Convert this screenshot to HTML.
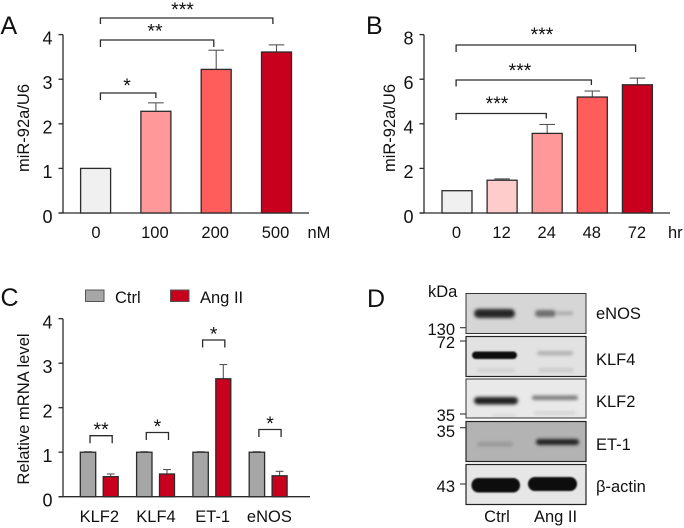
<!DOCTYPE html>
<html>
<head>
<meta charset="utf-8">
<style>
html,body{margin:0;padding:0;background:#fff;}
svg{display:block;filter:blur(0.3px);}
text{font-family:"Liberation Sans",sans-serif;fill:#111;}
</style>
</head>
<body>
<svg id="fig" xmlns="http://www.w3.org/2000/svg" width="684" height="528" viewBox="0 0 684 528">
<defs>
<filter id="b1" x="-30%" y="-150%" width="160%" height="400%"><feGaussianBlur stdDeviation="1.5"/></filter>
<filter id="b2" x="-30%" y="-100%" width="160%" height="300%"><feGaussianBlur stdDeviation="0.9"/></filter>
<clipPath id="c1"><rect x="466" y="293.5" width="120" height="40"/></clipPath>
<clipPath id="c2"><rect x="466" y="336.5" width="120" height="40"/></clipPath>
<clipPath id="c3"><rect x="466" y="379" width="120" height="39"/></clipPath>
<clipPath id="c4"><rect x="466" y="421.5" width="120" height="40"/></clipPath>
<clipPath id="c5"><rect x="466" y="464.5" width="120" height="40"/></clipPath>
</defs>

<g>
  <g clip-path="url(#c1)">
    <rect x="466" y="293.5" width="120" height="40" fill="#d6d6d6"/>
    <rect x="474" y="309" width="41" height="9" rx="4.5" fill="#262626" filter="url(#b1)"/>
    <rect x="535" y="310" width="21" height="7" rx="3.5" fill="#6e6e6e" filter="url(#b1)"/>
    <rect x="556" y="311.5" width="17" height="3.5" rx="1.7" fill="#a8a8a8" filter="url(#b1)"/>
  </g>
  <rect x="466" y="293.5" width="120" height="40" fill="none" stroke="#333" stroke-width="1"/>
  <g clip-path="url(#c2)">
    <rect x="466" y="336.5" width="120" height="40" fill="#e2e2e2"/>
    <rect x="472" y="351.5" width="45" height="7.5" rx="3.7" fill="#0c0c0c" filter="url(#b2)"/>
    <rect x="537" y="351" width="36" height="4.5" rx="2.2" fill="#b2b2b2" filter="url(#b1)"/>
    <rect x="477" y="368.5" width="38" height="3.5" rx="1.7" fill="#cfcfcf" filter="url(#b1)"/>
    <rect x="538" y="368" width="36" height="4.5" rx="2.2" fill="#cbcbcb" filter="url(#b1)"/>
  </g>
  <rect x="466" y="336.5" width="120" height="40" fill="none" stroke="#222" stroke-width="1.2"/>
  <g clip-path="url(#c3)">
    <rect x="466" y="379" width="120" height="39" fill="#e9e9e9"/>
    <rect x="474" y="397" width="44" height="7.5" rx="3.7" fill="#232323" filter="url(#b1)"/>
    <rect x="532" y="395.5" width="46" height="4.5" rx="2.2" fill="#7c7c7c" filter="url(#b1)"/>
    <rect x="534" y="411.5" width="42" height="3" rx="1.5" fill="#cfcfcf" filter="url(#b1)"/>
    <rect x="492" y="414.5" width="24" height="2.5" rx="1.2" fill="#d5d5d5" filter="url(#b1)"/>
  </g>
  <rect x="466" y="379" width="120" height="39" fill="none" stroke="#333" stroke-width="1"/>
  <g clip-path="url(#c4)">
    <rect x="466" y="421.5" width="120" height="40" fill="#b3b3b3"/>
    <rect x="477" y="442" width="36" height="4.5" rx="2.2" fill="#989898" filter="url(#b1)"/>
    <rect x="536" y="439" width="43" height="6" rx="3" fill="#222" filter="url(#b1)"/>
  </g>
  <rect x="466" y="421.5" width="120" height="40" fill="none" stroke="#222" stroke-width="1.2"/>
  <g clip-path="url(#c5)">
    <rect x="466" y="464.5" width="120" height="40" fill="#e6e6e6"/>
    <rect x="471.5" y="478" width="48.5" height="14.5" rx="7" fill="#070707" filter="url(#b2)"/>
    <rect x="528" y="477" width="49" height="14" rx="7" fill="#070707" filter="url(#b2)"/>
  </g>
  <rect x="466" y="464.5" width="120" height="40" fill="none" stroke="#222" stroke-width="1.2"/>
  <g stroke="#333" stroke-width="1.1">
    <line x1="460" x2="466" y1="327.7" y2="327.7"/>
    <line x1="460" x2="466" y1="341" y2="341"/>
    <line x1="460" x2="466" y1="414" y2="414"/>
    <line x1="460" x2="466" y1="427.7" y2="427.7"/>
    <line x1="460" x2="466" y1="484" y2="484"/>
  </g>
  <g font-size="16.5">
    <text x="428" y="297">kDa</text>
    <g text-anchor="end">
      <text x="455" y="335">130</text>
      <text x="455" y="348">72</text>
      <text x="455" y="421">35</text>
      <text x="455" y="437">35</text>
      <text x="455" y="492">43</text>
    </g>
    <text x="596" y="319">eNOS</text>
    <text x="596" y="365">KLF4</text>
    <text x="596" y="407">KLF2</text>
    <text x="596" y="450">ET-1</text>
    <text x="596" y="492" font-family="'Liberation Sans','DejaVu Sans',sans-serif">β-actin</text>
    <text x="497" y="522" text-anchor="middle">Ctrl</text>
    <text x="555.5" y="522" text-anchor="middle">Ang II</text>
  </g>
</g>
</svg>
<script>
// Panel A data
var aCategories = ['0', '100', '200', '500'];
var aValues = [1, 2.28, 3.22, 3.61];
var aErrorTops = [1, 2.47, 3.65, 3.77];
var aTicks = [0, 1, 2, 3, 4];
// Panel B data
var bCategories = ['0', '12', '24', '48', '72'];
var bValues = [1, 1.47, 3.57, 5.2, 5.75];
var bErrorTops = [1, 1.53, 3.97, 5.47, 6.05];
var bTicks = [0, 2, 4, 6, 8];
// Panel C data
var cCategories = ['KLF2', 'KLF4', 'ET-1', 'eNOS'];
var cCtrlValues = [1, 1, 1, 1];
var cCtrlErrorTops = [1.01, 1.01, 1.01, 1.01];
var cAngValues = [0.45, 0.51, 2.65, 0.47];
var cAngErrorTops = [0.51, 0.61, 2.97, 0.57];
var cTicks = [0, 1, 2, 3, 4];
var cSignificance = ['**', '*', '*', '*'];

var svg = document.getElementById('fig');
var NS = 'http://www.w3.org/2000/svg';
var INK = '#2b2b2b';

function make(tag, props, parent) {
  var el = document.createElementNS(NS, tag);
  for (var k in props) el.setAttribute(k, props[k]);
  (parent || svg).appendChild(el);
  return el;
}
function group(name) {
  var g = make('g', {});
  
  
  return g;
}
function label(g, name, str, x, y, size, anchor, rotate) {
  var t = make('text', {x: x, y: y, 'font-size': size, 'text-anchor': anchor || 'start'}, g);
  if (rotate) t.setAttribute('transform', 'rotate(-90 ' + x + ' ' + y + ')');
  t.textContent = str;
  
  
  return t;
}
function drawAxes(g, left, right, yScale, ticks, labelRight) {
  var yLine = make('line', {x1: left, x2: left, y1: yScale(ticks[0]), y2: yScale(ticks[ticks.length - 1]), stroke: INK, 'stroke-width': 1.3}, g);
  
  
  var xLine = make('line', {x1: left - 4.5, x2: right, y1: yScale(0), y2: yScale(0), stroke: INK, 'stroke-width': 1.3}, g);
  
  
  ticks.forEach(function (v) {
    var m = make('line', {x1: left - 4.5, x2: left, y1: yScale(v), y2: yScale(v), stroke: INK, 'stroke-width': 1.3}, g);
    
    
    label(g, 'y-tick-label', String(v), labelRight, yScale(v) + 9.8, 18, 'end');
  });
}
function drawBar(g, name, cx, w, value, top, yScale, fill) {
  if (top > value) {
    var stem = make('line', {x1: cx, x2: cx, y1: yScale(value), y2: yScale(top), stroke: '#555', 'stroke-width': 1.1}, g);
    
    
    var cap = make('line', {x1: cx - w * 0.26, x2: cx + w * 0.26, y1: yScale(top), y2: yScale(top), stroke: '#555', 'stroke-width': 1.1}, g);
    
    
  }
  var r = make('rect', {x: cx - w / 2, y: yScale(value), width: w, height: yScale(0) - yScale(value), fill: fill, stroke: INK, 'stroke-width': 1.3}, g);
  
  
}
function bracket(g, name, x1, x2, y, dropL, dropR, stars, starY, starX) {
  var p = make('path', {d: 'M' + x1 + ' ' + (y + dropL) + 'V' + y + 'H' + x2 + 'V' + (y + dropR), fill: 'none', stroke: '#2b2b2b', 'stroke-width': 1.3}, g);
  
  
  label(g, name + '-stars', stars, starX === undefined ? (x1 + x2) / 2 : starX, starY + 9, 19.5, 'middle');
}

/* Panel A */
(function () {
  var g = group('panel-a');
  var yA = function (v) { return 213 - v * 44.6; };
  var xA = function (i) { return 95.6 + i * 60.3; };
  var fills = ['#f0f0f0', '#ff9999', '#ff5c5c', '#c8001e'];
  drawAxes(g, 63, 309, yA, aTicks, 52.5);
  aCategories.forEach(function (c, i) {
    drawBar(g, 'bar-a-' + c, xA(i), 30, aValues[i], aErrorTops[i], yA, fills[i]);
    label(g, 'x-tick-label', c, i === 0 ? 96 : xA(i) - 1, 238, 16.5, 'middle');
  });
  label(g, 'x-unit-nm', 'nM', 307.5, 238, 16.5);
  label(g, 'y-axis-title', 'miR-92a/U6', 29, 128, 16.5, 'middle', true);
  label(g, 'panel-label-a', 'A', 0.5, 34, 25);
  bracket(g, 'bracket-0-100', xA(0.08), xA(1), 93, 7, 5, '*', 83, 127);
  bracket(g, 'bracket-0-200', xA(0.08), xA(1.96), 40, 7, 7, '**', 28.5, 155);
  bracket(g, 'bracket-0-500', xA(0.08), xA(2.94), 18, 6, 6, '***', 7, 182.5);
})();

/* Panel B */
(function () {
  var g = group('panel-b');
  var yB = function (v) { return 213 - v * 22.3; };
  var xB = function (i) { return 457 + i * 45.1; };
  var fills = ['#f0f0f0', '#ffcccc', '#ff9999', '#ff5c5c', '#c8001e'];
  drawAxes(g, 424, 670, yB, bTicks, 413.5);
  bCategories.forEach(function (c, i) {
    drawBar(g, 'bar-b-' + c, xB(i), 30, bValues[i], bErrorTops[i], yB, fills[i]);
    label(g, 'x-tick-label', c, xB(i) - 0.5, 238, 16.5, 'middle');
  });
  label(g, 'x-unit-hr', 'hr', 668, 238, 16.5);
  label(g, 'y-axis-title', 'miR-92a/U6', 395, 128, 16.5, 'middle', true);
  label(g, 'panel-label-b', 'B', 366, 34, 25);
  bracket(g, 'bracket-0-24', xB(-0.02), xB(1.98), 113.5, 6.5, 5, '***', 101, 497);
  bracket(g, 'bracket-0-48', xB(-0.02), xB(2.98), 80, 6.5, 5, '***', 68, 520);
  bracket(g, 'bracket-0-72', xB(-0.02), xB(3.96), 45, 7, 7, '***', 32, 542);
})();

/* Panel C */
(function () {
  var g = group('panel-c');
  var yC = function (v) { return 496.7 - v * 44.5; };
  var xCtrl = function (i) { return 88 + i * 56.3; };
  var xAng = function (i) { return 110.7 + i * 56.3; };
  var bracketY = [435.7, 432.5, 340, 429.5];
  drawAxes(g, 63, 310, yC, cTicks, 52.5);
  cCategories.forEach(function (c, i) {
    drawBar(g, 'bar-ctrl-' + c, xCtrl(i), 15.4, cCtrlValues[i], cCtrlErrorTops[i], yC, '#a6a6a6');
    drawBar(g, 'bar-ang-ii-' + c, xAng(i), 15, cAngValues[i], cAngErrorTops[i], yC, '#c8001e');
    label(g, 'x-tick-label', c, 99.3 + i * 56.7, 522, 16.5, 'middle');
    bracket(g, 'bracket-' + c, xCtrl(i) + 2, xAng(i) + 1.5, bracketY[i], 7.5, 7.5, cSignificance[i], bracketY[i] - 8.5);
  });
  label(g, 'y-axis-title', 'Relative mRNA level', 29, 409, 16.6, 'middle', true);
  label(g, 'panel-label-c', 'C', 0.5, 306, 25);
  var s1 = make('rect', {x: 85.5, y: 290, width: 18.5, height: 11.5, fill: '#a6a6a6', stroke: '#555', 'stroke-width': 1}, g);
  
  
  label(g, 'legend-label-ctrl', 'Ctrl', 115, 303, 16.5);
  var s2 = make('rect', {x: 170.5, y: 290, width: 18.5, height: 11.5, fill: '#c8001e', stroke: '#555', 'stroke-width': 1}, g);
  
  
  label(g, 'legend-label-ang-ii', 'Ang II', 200, 303, 16.5);
  label(g, 'panel-label-d', 'D', 367, 307, 25);
})();
</script>
</body>
</html>
